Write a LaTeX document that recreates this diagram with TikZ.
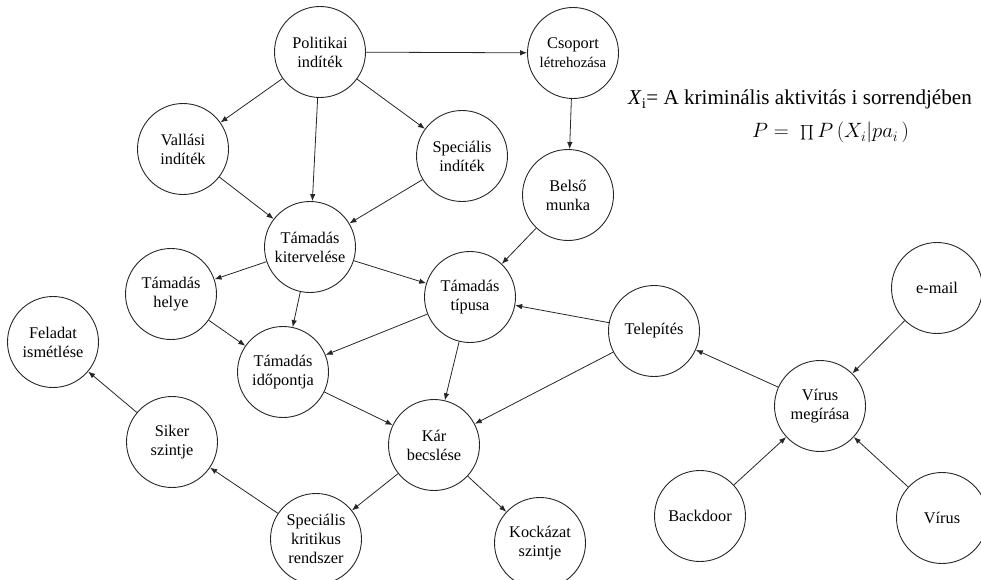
\documentclass[tikz,border=0pt]{standalone}
\usepackage{fontspec}
\setmainfont{Liberation Serif}
\usepackage{tikz}
\usetikzlibrary{arrows.meta, positioning}

\begin{document}
\begin{tikzpicture}[
        x=1pt, y=-1pt,
        state/.style={circle, draw=black!85, line width=0.9pt, minimum size=91pt, inner sep=0pt, align=center, font=\fontsize{16.3}{19}\selectfont},
        arrow/.style={-{Latex[length=7pt, width=5.5pt]}, line width=0.8pt, black!85},
        formula/.style={anchor=base west, inner sep=0pt}
    ]
        \useasboundingbox (0,0) rectangle (981,580);

        % Motive side
        \node[state] (pol) at (320,52) {Politikai\\indíték};
        \node[state] (csop) at (573,53) {Csoport\\{\fontsize{14.8}{19}\selectfont létrehozása}};
        \node[state] (vall) at (183,149) {Vallási\\indíték};
        \node[state] (specind) at (462,156) {Speciális\\indíték};
        \node[state] (belso) at (568,195) {Belső\\munka};

        % Attack
        \node[state] (terv) at (310,247) {Támadás\\kitervelése};
        \node[state] (hely) at (171,294) {Támadás\\helye};
        \node[state] (tipus) at (470,297) {Támadás\\típusa};
        \node[state] (ido) at (283,372) {Támadás\\időpontja};
        \node[state] (feladat) at (53,342) {Feladat\\ismétlése};
        \node[state] (siker) at (172,442) {Siker\\szintje};
        \node[state] (kar) at (434,445) {Kár\\becslése};
        \node[state] (speckrit) at (316,539) {Speciális\\kritikus\\rendszer};
        \node[state] (kockazat) at (540,543) {Kockázat\\szintje};

        % Virus
        \node[state] (telep) at (654,331) {Telepítés};
        \node[state] (email) at (937,288) {e-mail};
        \node[state] (virusir) at (820,406) {Vírus\\megírása};
        \node[state] (backdoor) at (700,516) {Backdoor};
        \node[state] (virus) at (942,518) {Vírus};

        % Formula
        \node[formula, font=\fontsize{21.1}{24}\selectfont] (def) at (628,105) {\textit{X}\textsubscript{i}= A kriminális aktivitás i sorrendjében};
        \node[formula, font=\fontsize{19.5}{24}\selectfont] (prob) at (752,138) {$P =\; \mathop{\vcenter{\hbox{\scalebox{1.45}{$\prod$}}}}\nolimits P\,(X_i|pa_i\,)$};

        \draw[arrow] (pol) -- (csop);
        \draw[arrow] (pol) -- (vall);
        \draw[arrow] (pol) -- (terv);
        \draw[arrow] (pol) -- (specind);
        \draw[arrow] (vall) -- (terv);
        \draw[arrow] (specind) -- (terv);
        \draw[arrow] (csop) -- (belso);
        \draw[arrow] (belso) -- (tipus);
        \draw[arrow] (terv) -- (hely);
        \draw[arrow] (terv) -- (tipus);
        \draw[arrow] (terv) -- (ido);
        \draw[arrow] (hely) -- (ido);
        \draw[arrow] (tipus) -- (ido);
        \draw[arrow] (tipus) -- (kar);
        \draw[arrow] (telep) -- (tipus);
        \draw[arrow] (telep) -- (kar);
        \draw[arrow] (ido) -- (kar);
        \draw[arrow] (virusir) -- (telep);
        \draw[arrow] (email) -- (virusir);
        \draw[arrow] (backdoor) -- (virusir);
        \draw[arrow] (virus) -- (virusir);
        \draw[arrow] (kar) -- (speckrit);
        \draw[arrow] (kar) -- (kockazat);
        \draw[arrow] (speckrit) -- (siker);
        \draw[arrow] (siker) -- (feladat);
    \end{tikzpicture}
\end{document}
